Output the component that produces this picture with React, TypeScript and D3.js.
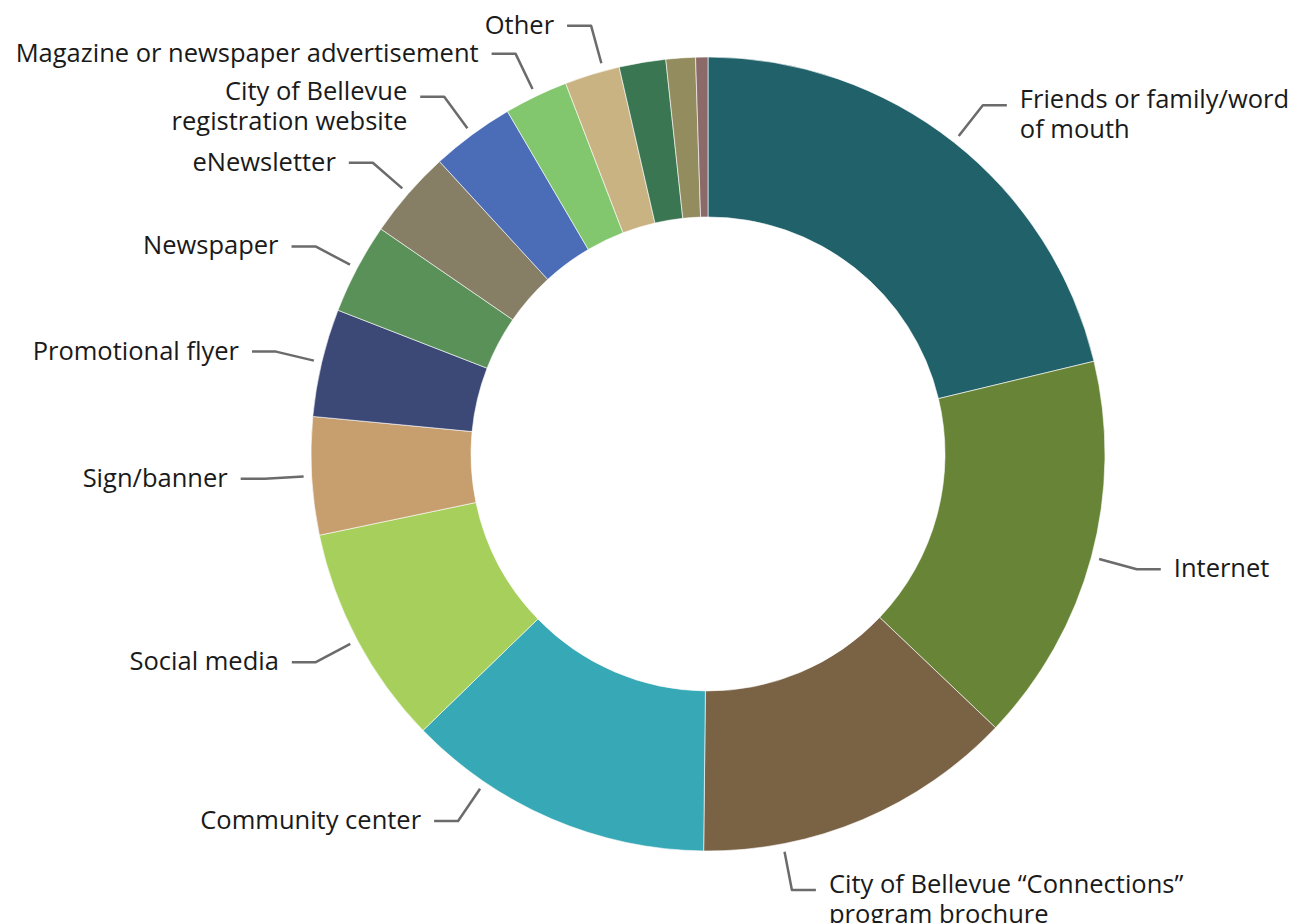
import React, { useEffect, useRef } from 'react'
import * as d3 from 'd3'

// survey answers, clockwise from 12 o'clock
const categories = [
    'Friends or family/word of mouth',
    'Internet',
    'City of Bellevue “Connections” program brochure',
    'Community center',
    'Social media',
    'Sign/banner',
    'Promotional flyer',
    'Newspaper',
    'eNewsletter',
    'City of Bellevue registration website',
    'Magazine or newspaper advertisement',
    'Other',
    '',
    '',
    '',
]
const values = [21.3, 15.9, 13.1, 12.6, 9.0, 4.8, 4.4, 3.7, 3.6, 3.4, 2.6, 2.25, 1.9, 1.2, 0.5]
// how each label is broken into lines
const labelLines: string[][] = [
    ['Friends or family/word', 'of mouth'],
    ['Internet'],
    ['City of Bellevue “Connections”', 'program brochure'],
    ['Community center'],
    ['Social media'],
    ['Sign/banner'],
    ['Promotional flyer'],
    ['Newspaper'],
    ['eNewsletter'],
    ['City of Bellevue', 'registration website'],
    ['Magazine or newspaper advertisement'],
    ['Other'],
    [],
    [],
    [],
]
const colors = [
    '#20616a', '#688537', '#7a6245', '#37a8b5', '#a6cf5c',
    '#c79f6e', '#3c4876', '#5a9159', '#877e66', '#4b6db7',
    '#82c76e', '#c9b382', '#3a7652', '#928c5e', '#8c6a6a',
]

export default function App() {
    const ref = useRef<SVGSVGElement | null>(null)

    const width = 1302
    const height = 923
    const cx = 708
    const cy = 454
    const outer = 397
    const inner = 237

    // leader lines sit at the slice middle, except where the label layout pulled them
    const nudge: { [k: number]: number } = { 2: 12, 3: 11, 11: 1.7 }

    useEffect(() => {
        const svg = d3.select(ref.current)
        svg.selectAll('*').remove()

        const g = svg.append('g').attr('transform', 'translate(' + cx + ',' + cy + ')')

        const pie = d3.pie<number>().sort(null).value(d => d)
        const arcs = pie(values)
        const arc = d3.arc<d3.PieArcDatum<number>>().innerRadius(inner).outerRadius(outer)

        g.selectAll('path.slice')
            .data(arcs)
            .enter().append('path')
            .attr('class', 'slice')
            .attr('d', arc as any)
            .attr('fill', (d, i) => colors[i])
            .attr('stroke', '#fff')
            .attr('stroke-width', 0.6)

        const pt = (a: number, r: number) => [Math.sin(a) * r, -Math.cos(a) * r]

        arcs.forEach((d, i) => {
            const lines = labelLines[i]
            if (!lines.length) return
            const a = (d.startAngle + d.endAngle) / 2 + ((nudge[i] || 0) * Math.PI) / 180
            const right = Math.sin(a) > 0
            const p0 = pt(a, outer + 8)
            const p1 = pt(a, outer + 47)
            const p2 = [p1[0] + (right ? 24 : -24), p1[1]]

            g.append('polyline')
                .attr('points', [p0, p1, p2].map(p => p.join(',')).join(' '))
                .attr('fill', 'none')
                .attr('stroke', '#6b6b6b')
                .attr('stroke-width', 2.5)
                .attr('stroke-linejoin', 'round')

            const tx = p2[0] + (right ? 13 : -13)
            const ty = lines.length > 1 ? p1[1] - 7 : p1[1] - 2
            const text = g.append('text')
                .attr('x', tx)
                .attr('y', ty)
                .attr('text-anchor', right ? 'start' : 'end')
                .attr('dominant-baseline', 'central')
                .style('font-family', '"Open Sans", sans-serif')
                .style('font-size', '25.5px')
                .style('fill', '#1a1a1a')
            lines.forEach((l, j) => {
                text.append('tspan').attr('x', tx).attr('y', ty + j * 30).text(l)
            })
        })
    }, [])

    return (
        <svg
            ref={ref}
            width={width}
            height={height}
            style={{ position: 'absolute', left: 0, top: 0, background: '#fff' }}
        />
    )
}
